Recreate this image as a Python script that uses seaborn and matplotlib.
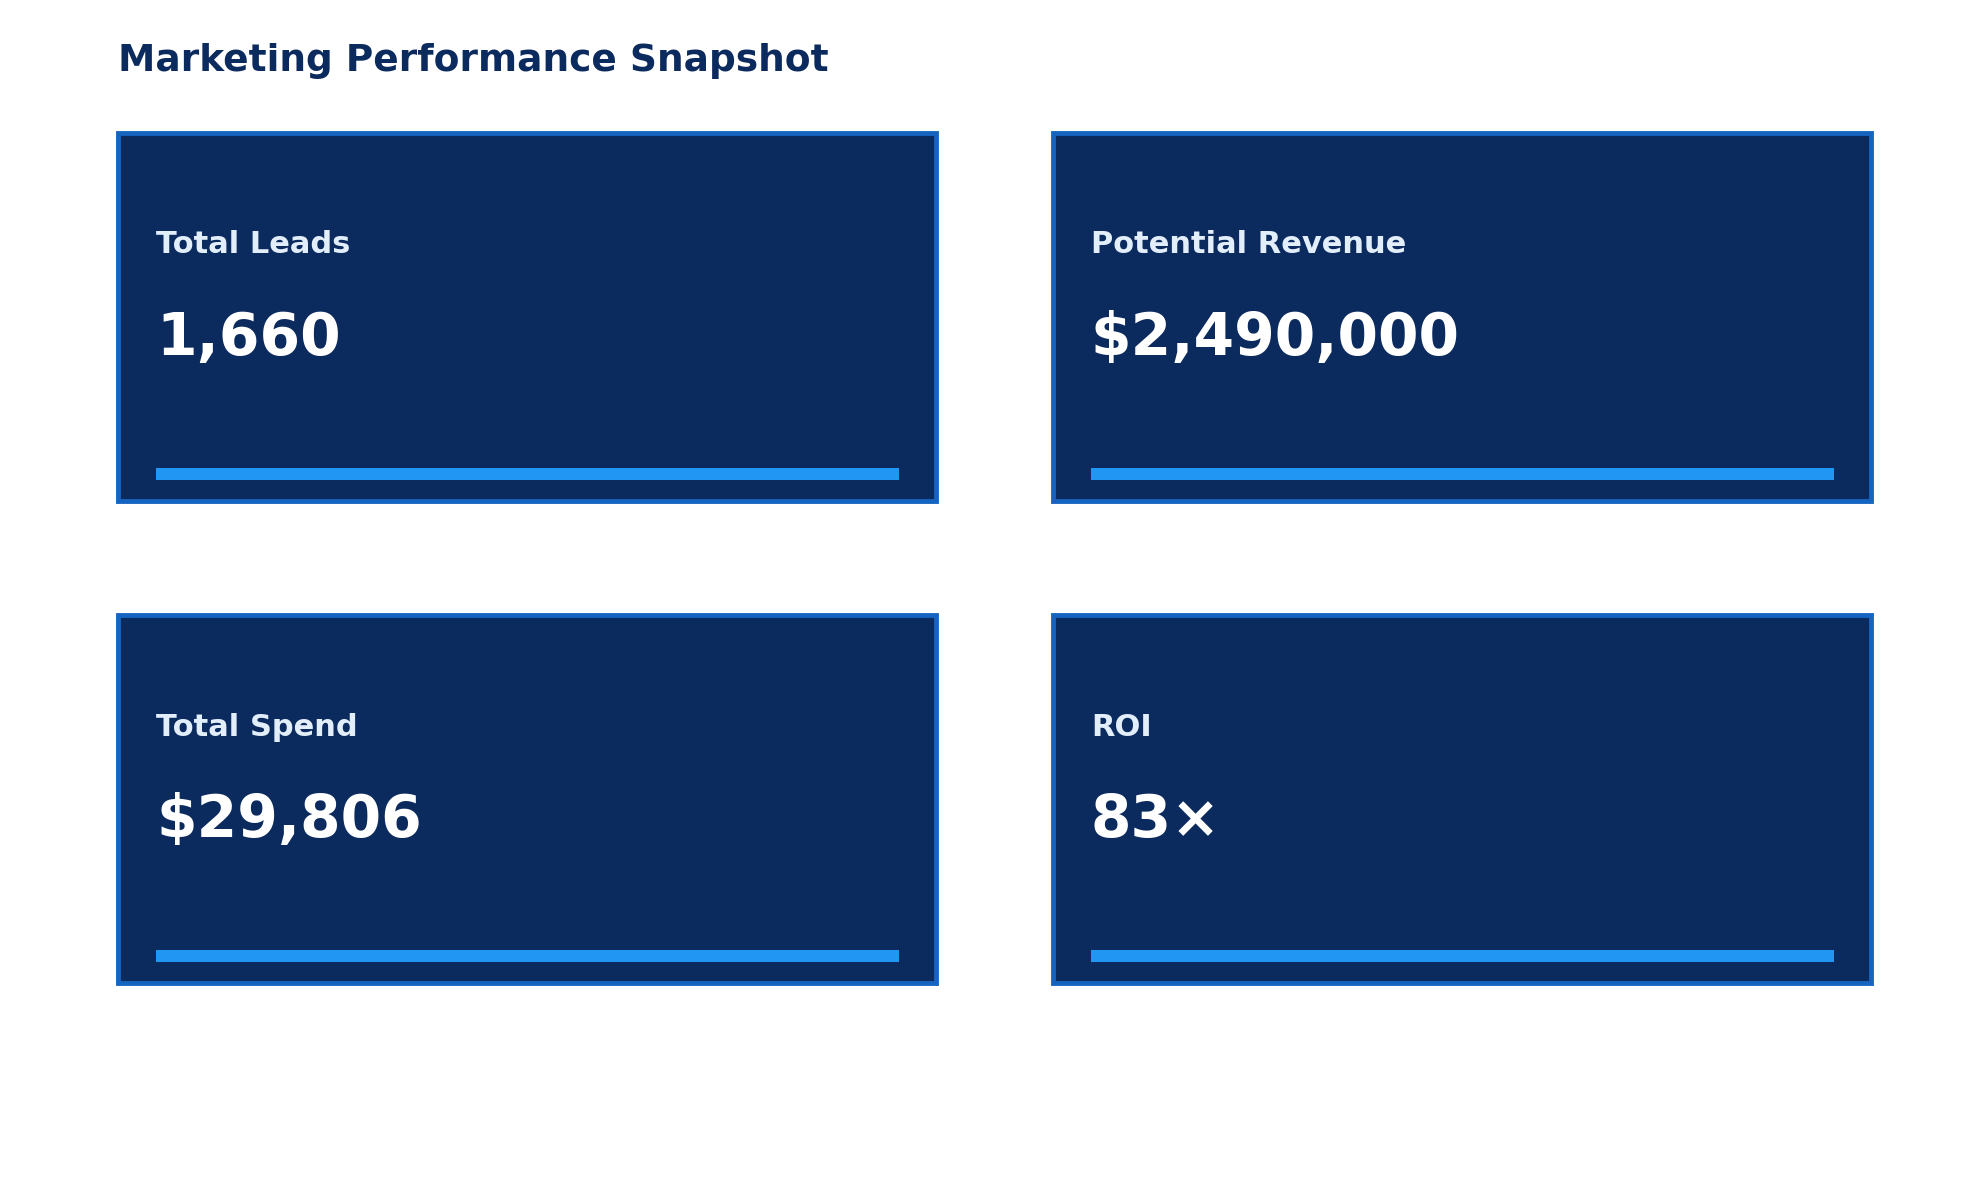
import matplotlib
matplotlib.use("Agg")
import matplotlib.pyplot as plt
import seaborn as sns
from matplotlib.patches import Rectangle

# KPI data
kpi_labels = ["Total Leads", "Potential Revenue", "Total Spend", "ROI"]
kpi_values = ["1,660", "$2,490,000", "$29,806", "83\u00d7"]

sns.set_theme(style="white", font="DejaVu Sans")

W, H = 1560, 930
fig = plt.figure(figsize=(19.79, 11.80), dpi=100)
ax = fig.add_axes([0, 0, 1, 1])
ax.set_xlim(0, W)
ax.set_ylim(H, 0)
ax.axis("off")

navy = "#0B2A5E"
edge = "#1565C0"
accent = "#2196F3"

ax.text(93, 48, "Marketing Performance Snapshot", fontsize=27, fontweight="bold",
        color=navy, va="center", ha="left")

card_x = [93, 830]
card_y = [105, 485]
card_w, card_h = 645, 290

for i, (lab, val) in enumerate(zip(kpi_labels, kpi_values)):
    x0 = card_x[i % 2]
    y0 = card_y[i // 2]
    ax.add_patch(Rectangle((x0, y0), card_w, card_h, facecolor=navy,
                           edgecolor=edge, linewidth=3.5))
    ax.text(x0 + 30, y0 + 88, lab, fontsize=22, fontweight="bold",
            color="#E3EEFB", va="center", ha="left")
    ax.text(x0 + 30, y0 + 162, val, fontsize=42, fontweight="bold",
            color="white", va="center", ha="left")
    ax.add_patch(Rectangle((x0 + 30, y0 + 264), card_w - 59, 9,
                           facecolor=accent, edgecolor="none"))

fig.savefig("out.png", dpi=100, facecolor="white")
